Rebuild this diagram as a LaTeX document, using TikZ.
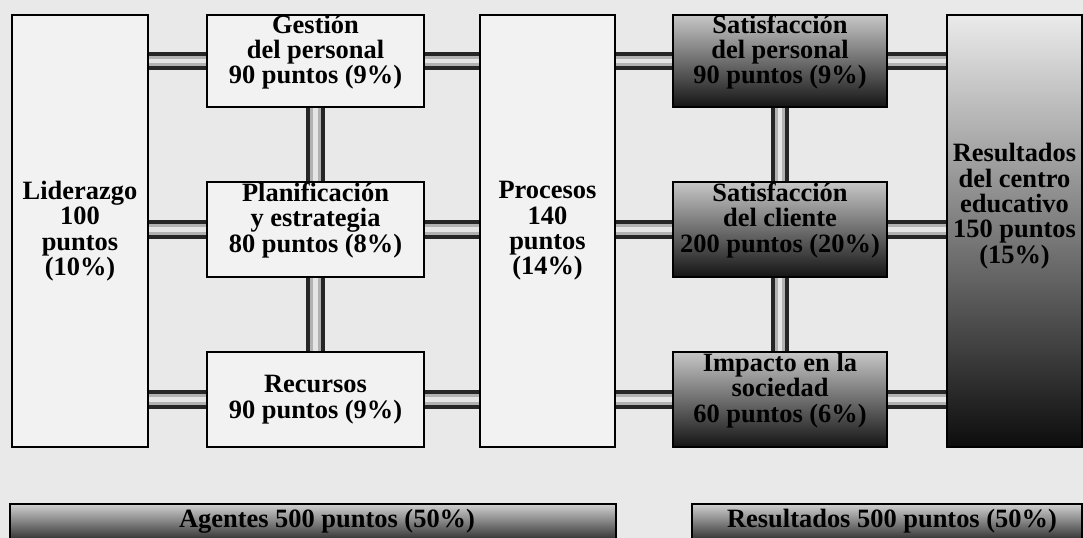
\documentclass[tikz,border=0pt]{standalone}
\usepackage{fontspec}
\setmainfont{Liberation Serif}
\usepackage{tikz}
\definecolor{bg}{RGB}{233,233,233}
\definecolor{boxfill}{RGB}{242,242,242}

\begin{document}
\begin{tikzpicture}[x=0.025cm, y=-0.025cm,
	box/.style={draw=black, line width=1.6pt, fill=boxfill, inner sep=0pt},
	dark/.style={box, top color=black!22, middle color=black!62, bottom color=black!92},
	bar/.style={draw=black, line width=1.6pt, top color=black!18, bottom color=black!95},
	txt/.style={align=center, inner sep=0pt, font=\bfseries\fontsize{18.8}{18}\selectfont},
	tube/.style={line width=13pt, draw=black!85},
	tubein/.style={line width=7.5pt, draw=black!30},
	tubehi/.style={line width=3.5pt, draw=black!10}]
%page
\fill[bg] (0,0) rectangle (1083,538);
\useasboundingbox (0,0) rectangle (1083,538);
%agentes
\node[box, minimum width=3.4cm, minimum height=10.8cm] (lid) at (80,231) {};
\node[box, minimum width=5.425cm, minimum height=2.3cm] (gest) at (315.5,61) {};
\node[box, minimum width=5.425cm, minimum height=2.375cm] (plan) at (315.5,229.5) {};
\node[box, minimum width=5.425cm, minimum height=2.375cm] (recu) at (315.5,399.5) {};
\node[box, minimum width=3.375cm, minimum height=10.8cm] (proc) at (547.5,231) {};
%resultados
\node[dark, minimum width=5.35cm, minimum height=2.3cm] (satp) at (780,61) {};
\node[dark, minimum width=5.35cm, minimum height=2.375cm] (satc) at (780,229.5) {};
\node[dark, minimum width=5.35cm, minimum height=2.375cm] (impa) at (780,399.5) {};
\node[box, minimum width=3.375cm, minimum height=10.8cm, top color=black!8, middle color=black!62, bottom color=black!95] (resc) at (1014.5,231) {};
%bars
\node[bar, minimum width=15.15cm, minimum height=1.1cm] (agen) at (313,526) {};
\node[bar, minimum width=9.75cm, minimum height=1.1cm] (resb) at (887,526) {};
%tubes
\foreach \a/\b/\r in {lid/gest/gest, lid/plan/plan, lid/recu/recu, gest/proc/gest, plan/proc/plan, recu/proc/recu,
	proc/satp/satp, proc/satc/satc, proc/impa/impa, satp/resc/satp, satc/resc/satc, impa/resc/impa}{
	\draw[tube] (\a.east |- \r) -- (\b.west |- \r);
	\draw[tubein] (\a.east |- \r) -- (\b.west |- \r);
	\draw[tubehi] (\a.east |- \r) -- (\b.west |- \r);
}
\foreach \a/\b in {gest/plan, plan/recu, satp/satc, satc/impa}{
	\draw[tube] (\a.south) -- (\b.north);
	\draw[tubein] (\a.south) -- (\b.north);
	\draw[tubehi] (\a.south) -- (\b.north);
}
%texts
\node[txt] (lidT) at (lid) {Liderazgo\\100\\puntos\\(10\%)};
\node[txt] (gestT) at ([yshift=6.4pt]gest.center) {Gestión\\del personal\\90 puntos (9\%)};
\node[txt] (planT) at ([yshift=6.4pt]plan.center) {Planificación\\y estrategia\\80 puntos (8\%)};
\node[txt] (recuT) at (recu) {Recursos\\90 puntos (9\%)};
\node[txt] (procT) at (proc) {Procesos\\140\\puntos\\(14\%)};
\node[txt] (satpT) at ([yshift=6.4pt]satp.center) {Satisfacción\\del personal\\90 puntos (9\%)};
\node[txt] (satcT) at ([yshift=6.4pt]satc.center) {Satisfacción\\del cliente\\200 puntos (20\%)};
\node[txt] (impaT) at ([yshift=6.4pt]impa.center) {Impacto en la\\sociedad\\60 puntos (6\%)};
\node[txt] (rescT) at ([yshift=17.7pt]resc.center) {Resultados\\del centro\\educativo\\150 puntos\\(15\%)};
\node[txt, anchor=base] (agenT) at (327,527) {Agentes 500 puntos (50\%)};
\node[txt, anchor=base] (resbT) at (892,527) {Resultados 500 puntos (50\%)};
\end{tikzpicture}
\end{document}
